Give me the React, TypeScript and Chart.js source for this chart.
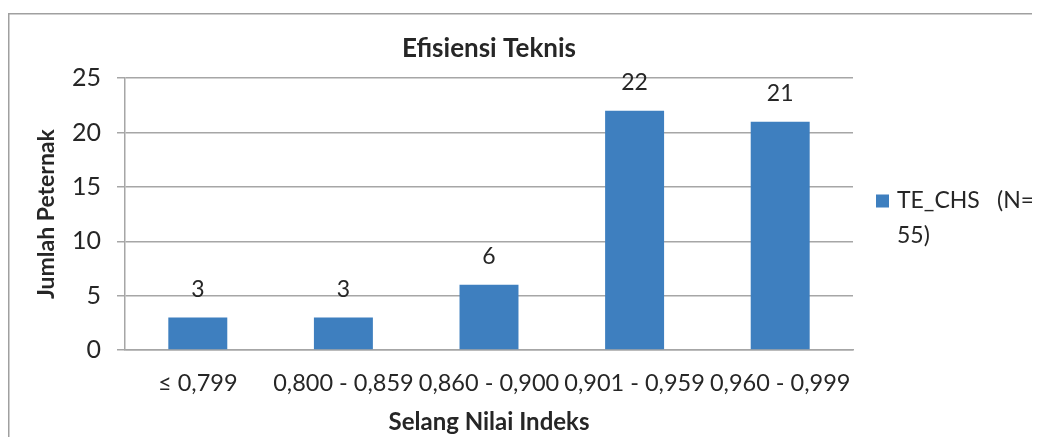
import React, { useEffect, useRef } from "react";
import { Chart, registerables } from "chart.js";

Chart.register(...registerables);

const categories = ["≤ 0,799", "0,800 - 0,859", "0,860 - 0,900", "0,901 - 0,959", "0,960 - 0,999"];
const values = [3, 3, 6, 22, 21];
const seriesName = "TE_CHS";
const legendLines = [["TE_CHS", "(N="], ["55)"]];
const yTicks = [0, 5, 10, 15, 20, 25];

const FONT = "Lato";
const BAR_COLOR = "#3E7FBF";
const GRID_COLOR = "#A6A6A6";
const TEXT_COLOR = "#262626";

const framePlugin = {
  id: "frame",
  beforeDraw(chart: any) {
    const ctx = chart.ctx;
    ctx.save();
    ctx.strokeStyle = "#A0A0A0";
    ctx.lineWidth = 1.5;
    ctx.beginPath();
    ctx.moveTo(0.75, chart.height + 5);
    ctx.lineTo(0.75, 5.75);
    ctx.lineTo(chart.width + 5, 5.75);
    ctx.stroke();
    ctx.restore();
  },
};

const dataLabelPlugin = {
  id: "dataLabels",
  afterDatasetsDraw(chart: any) {
    const ctx = chart.ctx;
    const meta = chart.getDatasetMeta(0);
    ctx.save();
    ctx.fillStyle = TEXT_COLOR;
    ctx.font = `23px ${FONT}`;
    ctx.textAlign = "center";
    ctx.textBaseline = "middle";
    meta.data.forEach((bar: any, i: number) => {
      ctx.fillText(String(values[i]), bar.x, bar.y - 28);
    });
    ctx.restore();
  },
};

const legendPlugin = {
  id: "customLegend",
  afterDraw(chart: any) {
    const ctx = chart.ctx;
    const x0 = chart.chartArea.right + 23;
    const y0 = 193;
    ctx.save();
    ctx.fillStyle = BAR_COLOR;
    ctx.fillRect(x0, y0 - 6.5, 13, 13);
    ctx.fillStyle = TEXT_COLOR;
    ctx.font = `23px ${FONT}`;
    ctx.textBaseline = "middle";
    ctx.textAlign = "left";
    ctx.fillText(legendLines[0][0], x0 + 21, y0);
    ctx.fillText(legendLines[0][1], x0 + 121, y0);
    ctx.fillText(legendLines[1][0], x0 + 21, y0 + 35);
    ctx.restore();
  },
};

export default function App() {
  const ref = useRef<HTMLCanvasElement | null>(null);

  useEffect(() => {
    if (!ref.current) return;
    const chart = new Chart(ref.current, {
      type: "bar",
      data: {
        labels: categories,
        datasets: [
          {
            label: seriesName,
            data: values,
            backgroundColor: BAR_COLOR,
            borderWidth: 0,
            barPercentage: 0.405,
            categoryPercentage: 1,
          },
        ],
      },
      options: {
        animation: false,
        responsive: false,
        maintainAspectRatio: false,
        layout: { padding: { left: 0, right: 187, top: 0, bottom: 0 } },
        plugins: {
          legend: { display: false },
          tooltip: { enabled: false },
          title: {
            display: true,
            text: "Efisiensi Teknis",
            fullSize: false,
            color: TEXT_COLOR,
            font: { family: FONT, size: 26, weight: "bold", lineHeight: 1.2 },
            padding: { top: 25, bottom: 14 },
          },
        },
        scales: {
          x: {
            grid: { display: false, drawTicks: false },
            border: { display: true, color: GRID_COLOR, width: 1.5 },
            ticks: {
              color: TEXT_COLOR,
              font: { family: FONT, size: 23.5 },
              padding: 19,
              maxRotation: 0,
              autoSkip: false,
            },
            title: {
              display: true,
              text: "Selang Nilai Indeks",
              color: TEXT_COLOR,
              font: { family: FONT, size: 24, weight: "bold", lineHeight: 1.2 },
              padding: { top: 0, bottom: 0 },
            },
            afterFit(scale: any) {
              scale.height = 87;
            },
          },
          y: {
            min: 0,
            max: 25,
            afterBuildTicks(scale: any) {
              scale.ticks = yTicks.map((v) => ({ value: v }));
            },
            grid: {
              color: GRID_COLOR,
              lineWidth: 1.5,
              tickLength: 8,
              drawTicks: true,
            },
            border: { display: true, color: GRID_COLOR, width: 1.5 },
            ticks: {
              color: TEXT_COLOR,
              font: { family: FONT, size: 25 },
              padding: 16,
            },
            title: {
              display: true,
              text: "Jumlah Peternak",
              color: TEXT_COLOR,
              font: { family: FONT, size: 23, weight: "bold", lineHeight: 1.2 },
              padding: { top: 25, bottom: 0 },
            },
            afterFit(scale: any) {
              scale.width = 117;
            },
          },
        },
      },
      plugins: [framePlugin, dataLabelPlugin, legendPlugin],
    });
    return () => chart.destroy();
  }, []);

  return (
    <div style={{ width: 1032, height: 429 }}>
      <canvas ref={ref} width={1032} height={429} style={{ display: "block" }} />
    </div>
  );
}
